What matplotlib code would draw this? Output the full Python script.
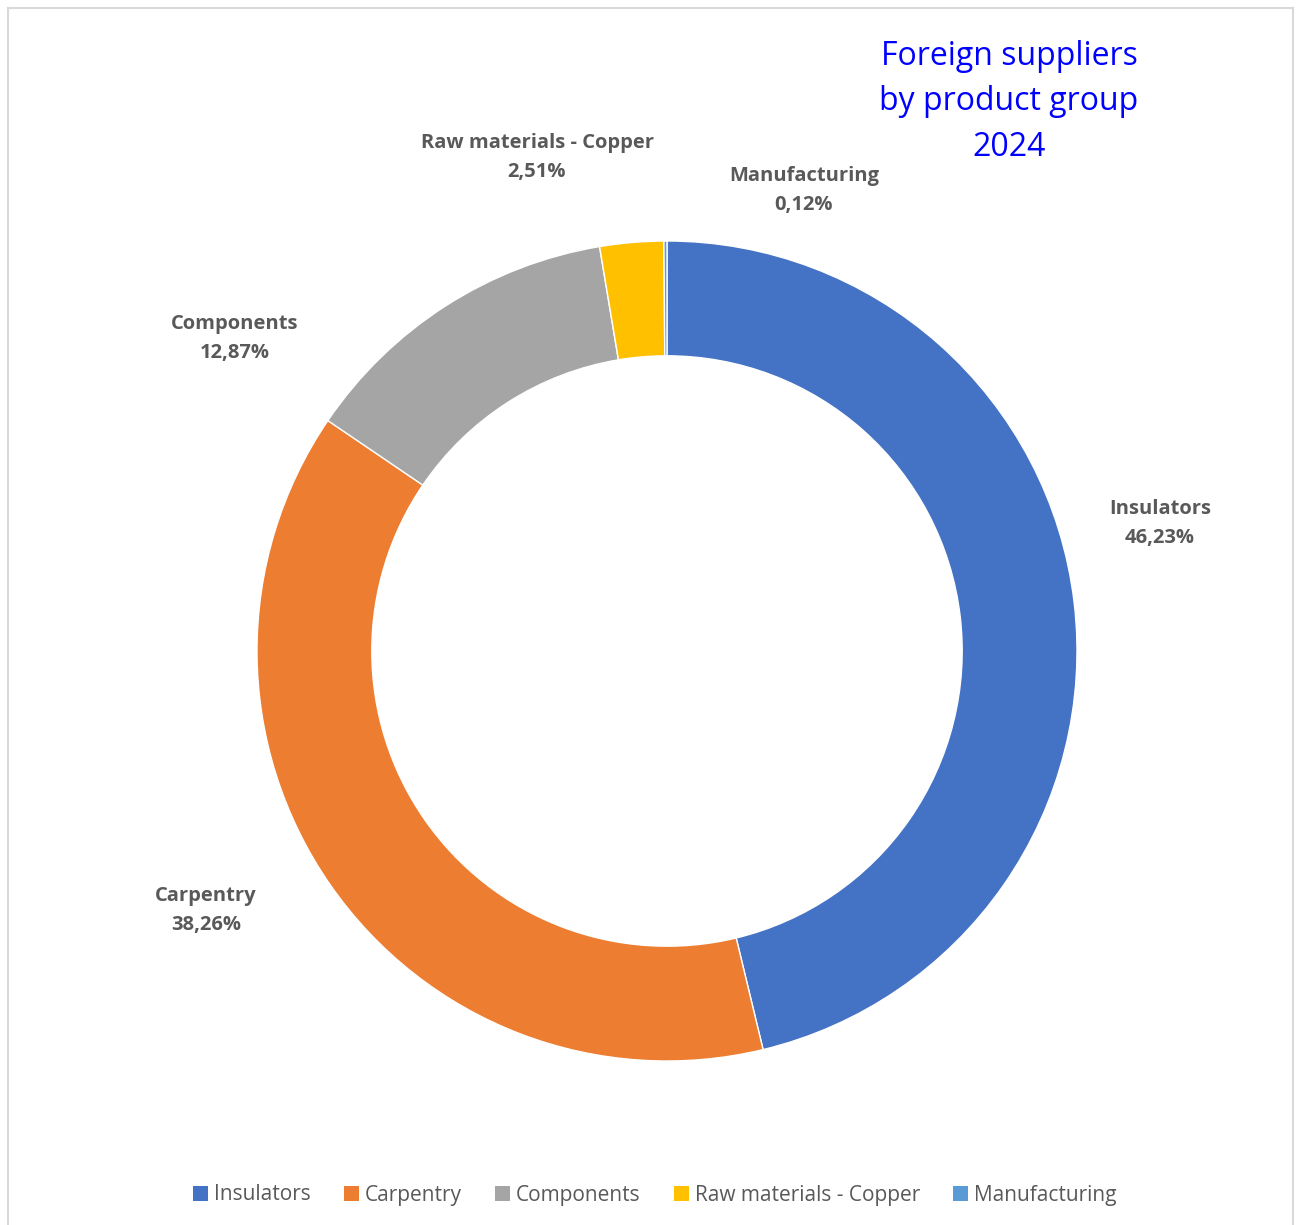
import matplotlib
matplotlib.use("Agg")
import matplotlib.pyplot as plt
from matplotlib.lines import Line2D
from matplotlib.patches import Patch

categories = ["Insulators", "Carpentry", "Components", "Raw materials - Copper", "Manufacturing"]
shares = [46.23, 38.26, 12.87, 2.51, 0.12]
colors = ["#4472C4", "#ED7D31", "#A5A5A5", "#FFC000", "#5B9BD5"]
title_lines = ["Foreign suppliers", "by product group", "2024"]

W, H = 1298, 1225
cx, cy, R = 667, 651, 410  # donut centre and outer radius in pixels

plt.rcParams["font.family"] = ["Open Sans", "DejaVu Sans"]
fig = plt.figure(figsize=(W / 100, H / 100), dpi=100)
ax = fig.add_axes([0, 0, 1, 1])

wedges, _ = ax.pie(shares, colors=colors, startangle=90, counterclock=False,
                   radius=1.0, wedgeprops=dict(width=0.28, edgecolor="white", linewidth=1.0))
# pixel-true limits: 1 data unit = R pixels on both axes
ax.set_xlim(-cx / R, (W - cx) / R)
ax.set_ylim(-(H - cy) / R, cy / R)
ax.axis("off")

# label anchor points (data units, radius 1 = outer edge)
label_pos = [(1.202, 0.312), (-1.124, -0.632), (-1.054, 0.763), (-0.317, 1.204), (0.334, 1.124)]
for name, val, (lx, ly) in zip(categories, shares, label_pos):
    txt = f"{name}\n{val:.2f}%".replace(".", ",")
    ax.text(lx, ly, txt, ha="center", va="center", fontsize=14.5, fontweight="bold",
            color="#595959", linespacing=1.6)

fig.text(1009 / W, 1 - 102 / H, "\n".join(title_lines), ha="center", va="center",
         fontsize=23, color="#0000FF", linespacing=1.5)

# chart frame
frame_kw = dict(color="#D9D9D9", linewidth=1.5, transform=fig.transFigure)
fig.add_artist(Line2D([8 / W, 8 / W], [0, 1 - 8 / H], **frame_kw))
fig.add_artist(Line2D([8 / W, 1293 / W], [1 - 8 / H, 1 - 8 / H], **frame_kw))
fig.add_artist(Line2D([1293 / W, 1293 / W], [0, 1 - 8 / H], **frame_kw))

handles = [Patch(facecolor=c, edgecolor="none") for c in colors]
fig.legend(handles, categories, loc="center", bbox_to_anchor=(655 / W, 1 - 1195 / H),
           ncol=5, frameon=False, fontsize=15, labelcolor="#595959",
           handlelength=0.7, handleheight=0.7, handletextpad=0.3, columnspacing=1.6)

fig.savefig("out.png", dpi=100, facecolor="white")
